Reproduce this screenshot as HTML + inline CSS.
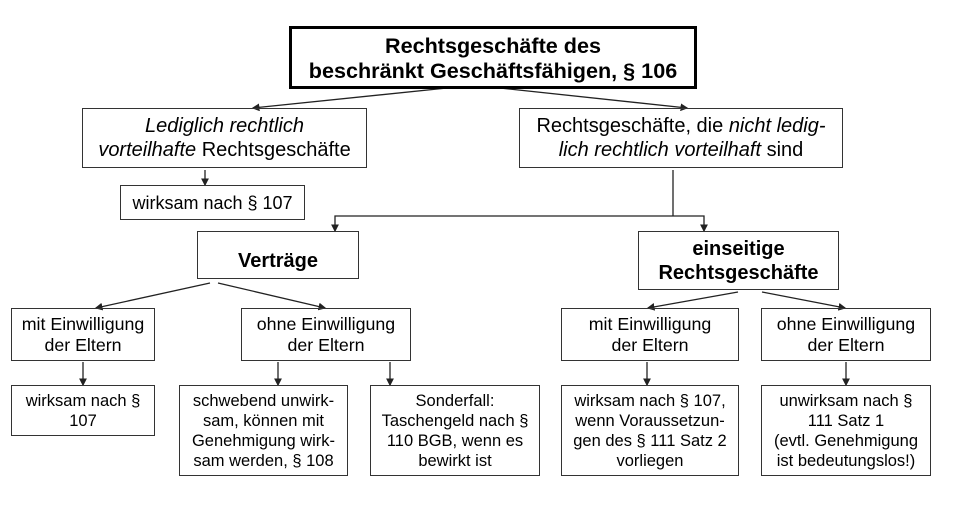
<!DOCTYPE html>
<html><head><style>
body{margin:0;width:962px;height:514px;background:#fff;position:relative;overflow:hidden;font-family:"Liberation Sans",Arial,sans-serif;color:#000}
.b{position:absolute;box-sizing:border-box;border:1.5px solid #333;display:flex;align-items:center;justify-content:center;text-align:center;font-size:16.5px;line-height:20px;white-space:nowrap}
.r1{font-size:17.8px;line-height:21px}
svg{position:absolute;left:0;top:0}
</style></head><body>
<svg width="962" height="514">
<defs><marker id="a" markerWidth="6" markerHeight="6" refX="5" refY="3" orient="auto"><path d="M0,0 L6,3 L0,6z" fill="#222"/></marker></defs>
<g stroke="#222" stroke-width="1.3" fill="none" marker-end="url(#a)">
<line x1="447" y1="88" x2="253" y2="108"/>
<line x1="500" y1="88" x2="687" y2="108"/>
<line x1="205" y1="170" x2="205" y2="185"/>
<line x1="210" y1="283" x2="96" y2="308"/>
<line x1="218" y1="283" x2="325" y2="308"/>
<line x1="738" y1="292" x2="648" y2="308"/>
<line x1="762" y1="292" x2="845" y2="308"/>
<line x1="83" y1="362" x2="83" y2="385"/>
<line x1="278" y1="362" x2="278" y2="385"/>
<line x1="390" y1="362" x2="390" y2="385"/>
<line x1="647" y1="362" x2="647" y2="385"/>
<line x1="846" y1="362" x2="846" y2="385"/>
<polyline points="673,216 335,216 335,231"/>
<polyline points="673,216 704,216 704,231"/>
</g>
<line x1="673" y1="170" x2="673" y2="216" stroke="#222" stroke-width="1.3"/>
</svg>
<div class="b" style="left:289px;top:26px;width:408px;height:63px;border:3px solid #000;font-weight:bold;font-size:21.6px;line-height:25px">Rechtsgeschäfte des<br>beschränkt Geschäftsfähigen, § 106</div>
<div class="b" style="left:82px;top:108px;width:285px;height:60px;font-size:20px;line-height:24px"><span><i>Lediglich rechtlich</i><br><i>vorteilhafte</i> Rechtsgeschäfte</span></div>
<div class="b" style="left:519px;top:108px;width:324px;height:60px;font-size:20px;line-height:24px"><span>Rechtsgeschäfte, die <i>nicht ledig-</i><br><i>lich rechtlich vorteilhaft</i> sind</span></div>
<div class="b" style="left:120px;top:185px;width:185px;height:35px;font-size:18px">wirksam nach § 107</div>
<div class="b" style="left:197px;top:231px;width:162px;height:48px;font-weight:bold;font-size:20px;padding-top:12px">Verträge</div>
<div class="b" style="left:638px;top:231px;width:201px;height:59px;font-weight:bold;font-size:20px;line-height:24px">einseitige<br>Rechtsgeschäfte</div>
<div class="b r1" style="left:11px;top:308px;width:144px;height:53px">mit Einwilligung<br>der Eltern</div>
<div class="b r1" style="left:241px;top:308px;width:170px;height:53px">ohne Einwilligung<br>der Eltern</div>
<div class="b r1" style="left:561px;top:308px;width:178px;height:53px">mit Einwilligung<br>der Eltern</div>
<div class="b r1" style="left:761px;top:308px;width:170px;height:53px">ohne Einwilligung<br>der Eltern</div>
<div class="b" style="left:11px;top:385px;width:144px;height:51px">wirksam nach §<br>107</div>
<div class="b" style="left:179px;top:385px;width:169px;height:91px">schwebend unwirk-<br>sam, können mit<br>Genehmigung wirk-<br>sam werden, § 108</div>
<div class="b" style="left:370px;top:385px;width:170px;height:91px">Sonderfall:<br>Taschengeld nach §<br>110 BGB, wenn es<br>bewirkt ist</div>
<div class="b" style="left:561px;top:385px;width:178px;height:91px">wirksam nach § 107,<br>wenn Voraussetzun-<br>gen des § 111 Satz 2<br>vorliegen</div>
<div class="b" style="left:761px;top:385px;width:170px;height:91px">unwirksam nach §<br>111 Satz 1<br>(evtl. Genehmigung<br>ist bedeutungslos!)</div>
</body></html>
